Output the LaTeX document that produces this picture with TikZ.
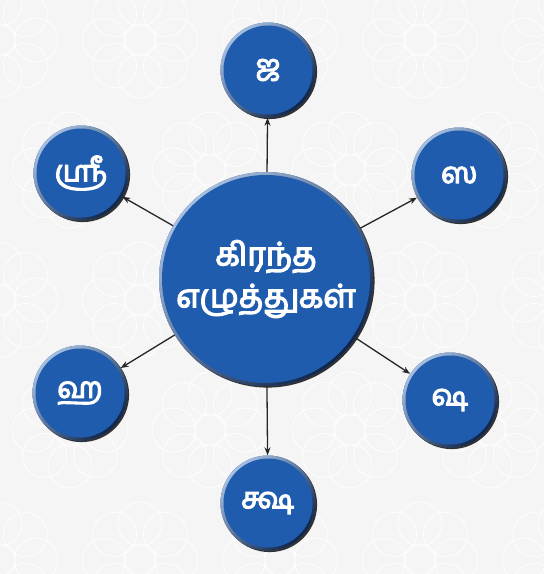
\documentclass[tikz,border=0pt]{standalone}
\usepackage{fontspec}
\newfontfamily\tamil[Script=Tamil, FakeBold=4, AutoFakeBold=4]{Hind Madurai}
\usetikzlibrary{shadows,calc,arrows.meta}
\definecolor{bg}{HTML}{F5F5F5}
\definecolor{mainblue}{HTML}{1F5CAE}
\definecolor{rimlight}{HTML}{A7BFE0}
\definecolor{rimdark}{HTML}{0E2448}
\begin{document}
\begin{tikzpicture}[x=1pt,y=-1pt,
  bubble/.style={circle, inner sep=0pt, fill=mainblue, text=white,
    drop shadow={shadow xshift=1.6pt, shadow yshift=-1.6pt, opacity=0.8, fill=black},
    path picture={
      \shade[top color=rimlight, bottom color=rimdark, shading angle=45]
        (path picture bounding box.south west) rectangle (path picture bounding box.north east);
      \fill[mainblue] let \p1=(path picture bounding box.north east),
        \p2=(path picture bounding box.center) in (\p2) circle ({\x1-\x2-3pt});
    }},
  small/.style={bubble, minimum size=95pt, font=\tamil\bfseries\fontsize{29}{30}\selectfont},
  big/.style={bubble, minimum size=214pt, align=center, font=\tamil\bfseries\fontsize{32}{42}\selectfont},
  arr/.style={-{Stealth[length=8pt,width=6pt]}, line width=1.3pt, black!85},
  pat/.style={white, line width=0.7pt}]
\useasboundingbox (0,0) rectangle (544,574);
\fill[bg] (0,0) rectangle (544,574);
% faint background pattern
\foreach \cx/\cy in {0/40, 140/40, 280/40, 420/40, 560/40,
                     70/170, 210/170, 350/170, 490/170,
                     0/300, 140/300, 280/300, 420/300, 560/300,
                     70/430, 210/430, 350/430, 490/430,
                     0/560, 140/560, 280/560, 420/560, 560/560}{
  \foreach \a in {0,45,...,315}{
    \draw[pat] (\cx,\cy) ++(\a:36) circle (22);
  }
  \draw[pat] (\cx,\cy) circle (16);
}
\node[big] (c) at (266,279) {கிரந்த\\எழுத்துகள்};
\node[small] (j) at (268,70) {ஜ};
\node[small] (s) at (459,175) {ஸ};
\node[small] (sh) at (450,400) {ஷ};
\node[small] (ksh) at (268,503) {க்ஷ};
\node[small] (h) at (80,393) {ஹ};
\node[small] (sri) at (81,173) {ஸ்ரீ};
\draw[arr] (c) -- (j);
\draw[arr] (c) -- (s);
\draw[arr] (c) -- (sh);
\draw[arr] (c) -- (ksh);
\draw[arr] (c) -- (h);
\draw[arr] (c) -- (sri);
\end{tikzpicture}
\end{document}
